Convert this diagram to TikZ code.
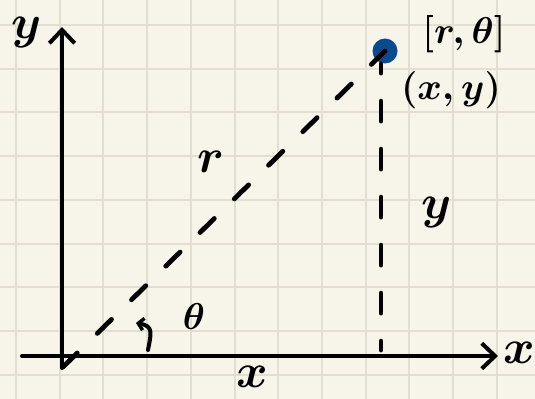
\RequirePackage{fix-cm}
\documentclass[tikz,border=0pt]{standalone}
\usepackage{xcolor}
\usepackage{tikz}
\usepackage{amsmath}
\usetikzlibrary{arrows.meta}
\definecolor{PaperCream}{HTML}{F7F5EA}
\definecolor{GridBeige}{HTML}{E2DFD2}
\definecolor{PointBlue}{HTML}{0B4A8E}

\tikzset{
  axisline/.style={line width=3pt, line cap=round,
    -{Straight Barb[length=10pt, width=19pt, line width=3pt]}},
  guideline/.style={line width=3.6pt, line cap=round,
    dash pattern=on 15pt off 21pt},
  biglabel/.style={font=\fontsize{36}{38}\selectfont\boldmath, inner sep=0pt},
  smalllabel/.style={font=\fontsize{28}{30}\selectfont\boldmath, inner sep=0pt}
}

\begin{document}
\begin{tikzpicture}[x=0.75pt, y=-0.75pt]
        \useasboundingbox (0,0) rectangle (535,399);
        \fill[PaperCream] (0,0) rectangle (535,399);
        \foreach \k in {0,...,11}
          \draw[GridBeige, line width=1.5pt] ({16+43.7*\k},0) -- ({16+43.7*\k},399);
        \foreach \k in {0,...,8}
          \draw[GridBeige, line width=1.5pt] (0,{25+43.7*\k}) -- (535,{25+43.7*\k});

        \coordinate (ybottom) at (62,368);
        \coordinate (ytop) at (62,27);
        \coordinate (xleft) at (22,356);
        \coordinate (xright) at (498,356);
        \coordinate (rstart) at (63,367);
        \coordinate (foot) at (381,350);

        \node[circle, fill=PointBlue, minimum size=18.75pt, inner sep=0pt] (P) at (385,51) {};

        \draw[axisline] (ybottom) -- (ytop);
        \draw[axisline] (xleft) -- (xright);
        \draw[guideline] (rstart) -- (P.center);
        \draw[guideline, dash phase=8pt] (P.south -| foot) -- (foot);

        \coordinate (arcfrom) at (148,350);
        \coordinate (arcto) at (136,323);
        \draw[line width=3pt, line cap=round,
              -{Straight Barb[length=4pt, width=9pt, line width=2.6pt]}]
          (arcfrom) .. controls (151,334) and (154,326) .. (arcto);

        \node[biglabel] (ylab) at (27,33) {$y$};
        \node[biglabel] (xlab) at (519,353) {$x$};
        \node[biglabel] (xval) at (252,377) {$x$};
        \node[biglabel] (rlab) at (211,162) {$r$};
        \node[biglabel] (yval) at (437,212) {$y$};
        \node[smalllabel] (thetalab) at (194,317) {$\theta$};
        \node[smalllabel] (polar) at (464,34) {$[r,\theta]$};
        \node[smalllabel] (cart) at (451,90) {$(x,y)$};
      \end{tikzpicture}
\end{document}
